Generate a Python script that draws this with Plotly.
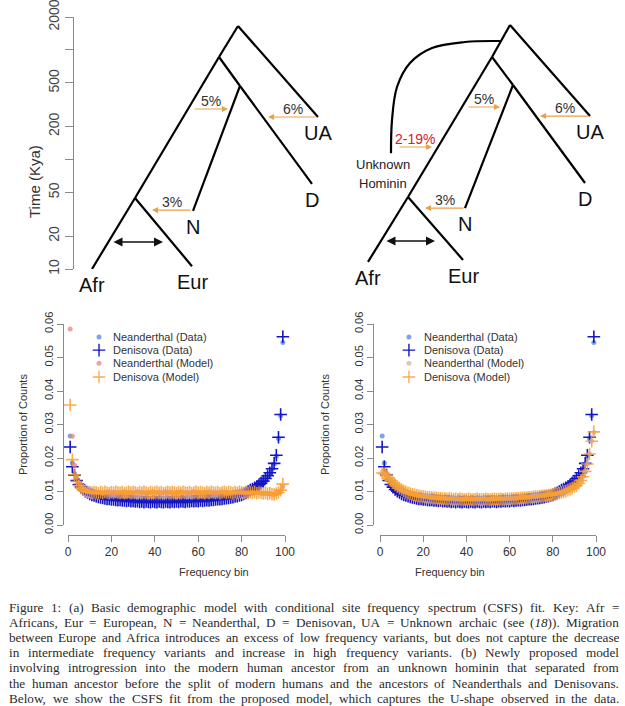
import math
import plotly.graph_objects as go

W, H = 625, 706
def fx(p): return p / W
def fy(p): return 1 - p / H

# ---------------- data: CSFS ----------------
bins = list(range(1, 100))
series_names = ["Neanderthal (Data)", "Denisova (Data)", "Neanderthal (Model)", "Denisova (Model)"]

nd_data = [.0266, .0185, .0153, .0135, .0122, .0114, .0107, .0102, .0098, .0094,
           .0091, .0089, .0087, .0085, .0083, .0082, .0080, .0079, .0078, .0077,
           .0077, .0076, .0075, .0075, .0074, .0074, .0073, .0073, .0072, .0072,
           .0071, .0071, .0070, .0071, .0070, .0070, .0070, .0069, .0070, .0070,
           .0069, .0070, .0070, .0069, .0070, .0070, .0069, .0070, .0070, .0070,
           .0070, .0071, .0071, .0070, .0071, .0071, .0072, .0072, .0072, .0072,
           .0073, .0073, .0074, .0074, .0074, .0075, .0076, .0076, .0077, .0078,
           .0079, .0079, .0080, .0081, .0082, .0084, .0085, .0087, .0088, .0090,
           .0093, .0096, .0099, .0103, .0106, .0110, .0114, .0119, .0124, .0130,
           .0137, .0145, .0154, .0166, .0182, .0205, .0258, .0326, .0545]

dv_data = [.0233, .0174, .0149, .0133, .0121, .0113, .0106, .0101, .0097, .0093,
           .0090, .0088, .0086, .0084, .0082, .0081, .0079, .0078, .0078, .0076,
           .0076, .0075, .0074, .0075, .0073, .0073, .0072, .0073, .0071, .0072,
           .0070, .0071, .0069, .0070, .0068, .0070, .0069, .0068, .0070, .0069,
           .0068, .0070, .0069, .0068, .0070, .0069, .0068, .0070, .0069, .0070,
           .0069, .0071, .0070, .0069, .0071, .0070, .0072, .0071, .0072, .0071,
           .0073, .0072, .0073, .0074, .0073, .0075, .0075, .0076, .0077, .0077,
           .0078, .0079, .0080, .0081, .0082, .0083, .0085, .0086, .0088, .0090,
           .0093, .0096, .0100, .0104, .0107, .0111, .0115, .0120, .0125, .0131,
           .0139, .0147, .0156, .0168, .0184, .0208, .0262, .0330, .0562]

# panel (a): basic model
nd_model_a = [.0585, .0265, .0178, .0143, .0126, .0115, .0108, .0103, .0100, .0099,
              .0097, .0099, .0096, .0098, .0097, .0095, .0098, .0097, .0099, .0096,
              .0098, .0097, .0095, .0098, .0096, .0099, .0097, .0096, .0098, .0095,
              .0097, .0099, .0096, .0098, .0097, .0095, .0098, .0096, .0099, .0097,
              .0096, .0098, .0095, .0097, .0099, .0096, .0098, .0097, .0095, .0098,
              .0096, .0099, .0097, .0096, .0098, .0095, .0097, .0099, .0096, .0098,
              .0097, .0095, .0098, .0096, .0099, .0097, .0096, .0098, .0095, .0097,
              .0099, .0096, .0098, .0097, .0095, .0098, .0096, .0099, .0097, .0096,
              .0098, .0095, .0097, .0096, .0098, .0095, .0097, .0096, .0095, .0094,
              .0095, .0093, .0094, .0092, .0091, .0093, .0096, .0102, .0115]

dv_model_a = [.0358, .0195, .0150, .0130, .0118, .0110, .0105, .0101, .0099, .0098,
              .0096, .0098, .0097, .0095, .0098, .0096, .0099, .0097, .0095, .0098,
              .0096, .0099, .0097, .0096, .0098, .0095, .0097, .0099, .0096, .0098,
              .0097, .0095, .0098, .0096, .0099, .0097, .0095, .0098, .0096, .0097,
              .0099, .0096, .0098, .0095, .0097, .0099, .0096, .0098, .0097, .0095,
              .0098, .0096, .0099, .0097, .0096, .0098, .0095, .0097, .0099, .0096,
              .0098, .0097, .0095, .0098, .0096, .0099, .0097, .0096, .0098, .0095,
              .0097, .0099, .0096, .0098, .0097, .0095, .0098, .0096, .0099, .0097,
              .0096, .0098, .0095, .0097, .0096, .0098, .0095, .0097, .0096, .0094,
              .0096, .0093, .0095, .0092, .0091, .0094, .0097, .0104, .0122]

# panel (b): proposed model
nd_model_b = [.0158, .0154, .0148, .0141, .0134, .0127, .0121, .0116, .0111, .0107,
              .0103, .0100, .0097, .0095, .0093, .0091, .0089, .0088, .0087, .0086,
              .0085, .0084, .0083, .0082, .0082, .0081, .0080, .0080, .0080, .0079,
              .0079, .0078, .0078, .0078, .0077, .0078, .0077, .0077, .0077, .0078,
              .0077, .0077, .0077, .0078, .0077, .0077, .0077, .0078, .0077, .0077,
              .0077, .0078, .0077, .0078, .0078, .0078, .0078, .0078, .0079, .0079,
              .0079, .0080, .0080, .0081, .0081, .0082, .0082, .0083, .0083, .0084,
              .0085, .0085, .0086, .0087, .0088, .0088, .0089, .0090, .0091, .0092,
              .0093, .0094, .0096, .0098, .0100, .0102, .0105, .0108, .0111, .0115,
              .0119, .0125, .0134, .0145, .0161, .0183, .0213, .0251, .0276]

dv_model_b = [.0155, .0153, .0147, .0140, .0133, .0126, .0120, .0115, .0110, .0106,
              .0102, .0099, .0096, .0094, .0092, .0090, .0089, .0087, .0086, .0085,
              .0084, .0083, .0083, .0082, .0081, .0081, .0080, .0080, .0079, .0079,
              .0078, .0079, .0078, .0077, .0078, .0077, .0078, .0077, .0076, .0077,
              .0078, .0077, .0076, .0077, .0078, .0077, .0076, .0077, .0078, .0077,
              .0076, .0077, .0078, .0077, .0077, .0078, .0077, .0078, .0078, .0078,
              .0079, .0079, .0080, .0080, .0081, .0081, .0082, .0082, .0083, .0083,
              .0084, .0085, .0085, .0086, .0087, .0088, .0088, .0089, .0090, .0091,
              .0092, .0093, .0095, .0097, .0099, .0101, .0104, .0107, .0110, .0114,
              .0118, .0124, .0133, .0144, .0160, .0182, .0212, .0250, .0278]

for s in (nd_data, dv_data, nd_model_a, dv_model_a, nd_model_b, dv_model_b):
    assert len(s) == len(bins)

x_ticks = [0, 20, 40, 60, 80, 100]
y_ticks = [0.0, 0.01, 0.02, 0.03, 0.04, 0.05, 0.06]
y_tick_text = ["0.00", "0.01", "0.02", "0.03", "0.04", "0.05", "0.06"]

# ---------------- data: demographic trees ----------------
time_ticks = [10, 20, 50, 100, 200, 500, 1000, 2000]
time_tick_text = ["10", "20", "50", "", "200", "500", "", "2000"]

node_names = ["root", "split", "archaic", "UA", "D", "N", "AfrEur", "Afr", "Eur"]
edges = [("root", "split"), ("split", "AfrEur"), ("AfrEur", "Afr"), ("root", "UA"),
         ("split", "archaic"), ("archaic", "D"), ("archaic", "N"), ("AfrEur", "Eur")]
tips = ["UA", "D", "N", "Afr", "Eur"]

left_node_x = [238, 219, 240, 318, 312, 193, 135, 92, 192]
left_node_kya = [1656, 863, 469, 244, 60, 34, 44.5, 10, 10.6]
right_node_x = [510, 492, 513, 590, 585, 465, 408, 368, 463]
right_node_kya = [1690, 863, 479, 249, 61, 36, 45.4, 11.6, 12.1]

# migrations: (from_x, to_x, kya, label, label colour)
left_migrations = [(193, 228, 289, "5%", "#333333"), (318, 268, 244, "6%", "#333333"),
                   (192, 152, 34.5, "3%", "#333333")]
right_migrations = [(398, 432, 130, "2-19%", "#D2232A"), (467, 500, 301, "5%", "#333333"),
                    (590, 540, 249, "6%", "#333333"), (465, 425, 36, "3%", "#333333")]
left_exchange = (112, 163, 17.6)
right_exchange = (385, 435, 18)

hominin_x = [391, 392, 397, 410, 432, 465, 500]
hominin_kya = [114, 229, 459, 760, 1042, 1183, 1207]

caption_lines = [
    "Figure 1: (a) Basic demographic model with conditional site frequency spectrum (CSFS) fit. Key: Afr =",
    "Africans, Eur = European, N = Neanderthal, D = Denisovan, UA = Unknown archaic (see (<i>18</i>)). Migration",
    "between Europe and Africa introduces an excess of low frequency variants, but does not capture the decrease",
    "in intermediate frequency variants and increase in high frequency variants. (b) Newly proposed model",
    "involving introgression into the modern human ancestor from an unknown hominin that separated from",
    "the human ancestor before the split of modern humans and the ancestors of Neanderthals and Denisovans.",
    "Below, we show the CSFS fit from the proposed model, which captures the U-shape observed in the data.",
]

# ---------------- styling ----------------
SANS = "Liberation Sans, Arial, sans-serif"
SERIF = "Liberation Serif, Times New Roman, serif"
AX_GRAY = "#8a8a8a"
TXT = "#333333"
ORANGE = "#E9A04A"
C_ND_DATA = "rgba(80,135,225,0.75)"
C_DV_DATA = "#1414C8"
C_ND_MODEL = "rgba(240,130,130,0.75)"
C_DV_MODEL = "rgba(246,160,50,0.85)"

fig = go.Figure()

def add_panel(xa, ya, nd_model, dv_model, leg_model_color):
    sets = [
        (nd_data, "circle", C_ND_DATA),
        (dv_data, "cross-thin", C_DV_DATA),
        (nd_model, "circle", leg_model_color),
        (dv_model, "cross-thin", C_DV_MODEL),
    ]
    for (vals, sym, col), name in zip(sets, series_names):
        if sym == "circle":
            marker = dict(symbol="circle", size=5, color=col, line=dict(width=0))
        else:
            marker = dict(symbol="cross-thin", size=9, color=col, line=dict(width=1.6, color=col))
        fig.add_trace(go.Scatter(x=bins, y=vals, mode="markers", name=name, marker=marker,
                                 xaxis=xa, yaxis=ya, showlegend=False, cliponaxis=False,
                                 hoverinfo="x+y+name"))

add_panel("x", "y", nd_model_a, dv_model_a, C_ND_MODEL)
add_panel("x2", "y2", nd_model_b, dv_model_b, "rgba(215,170,170,0.7)")

# manual R-style legends (positions in axis units)
leg_rows = [0.0561, 0.0522, 0.0483, 0.0442]
leg_syms = [("circle", C_ND_DATA), ("cross-thin", C_DV_DATA), ("circle", None), ("cross-thin", C_DV_MODEL)]
annotations = []
for xa, ya, sym_x, txt_x, ndm_col in [("x", "y", 14.3, 20.0, C_ND_MODEL), ("x2", "y2", 13.4, 19.6, "rgba(215,170,170,0.7)")]:
    for (sym, col), name, yy in zip(leg_syms, series_names, leg_rows):
        col = col or ndm_col
        if sym == "circle":
            marker = dict(symbol="circle", size=5, color=col, line=dict(width=0))
        else:
            marker = dict(symbol="cross-thin", size=9, color=col, line=dict(width=1.4, color=col))
        fig.add_trace(go.Scatter(x=[sym_x], y=[yy], mode="markers", marker=marker, xaxis=xa, yaxis=ya,
                                 showlegend=False, hoverinfo="skip", cliponaxis=False))
        annotations.append(dict(x=txt_x, y=yy, xref=xa, yref=ya, text=name, showarrow=False,
                                xanchor="left", yanchor="middle", font=dict(family=SANS, size=11, color=TXT)))

# ---------------- trees ----------------
def add_tree(node_x, node_kya):
    pos = {n: (x, k) for n, x, k in zip(node_names, node_x, node_kya)}
    xs, ys = [], []
    for a, b in edges:
        xs += [pos[a][0], pos[b][0], None]
        ys += [pos[a][1], pos[b][1], None]
    fig.add_trace(go.Scatter(x=xs, y=ys, mode="lines", line=dict(color="black", width=2.2),
                             xaxis="x3", yaxis="y3", showlegend=False, hoverinfo="skip", cliponaxis=False))
    for t in tips:
        x, k = pos[t]
        annotations.append(dict(x=x, y=math.log10(k), xref="x3", yref="y3", text=t, showarrow=False,
                                yshift=-16, xanchor="center", yanchor="middle",
                                font=dict(family=SANS, size=20, color="#111111")))

def add_migrations(migs, exch):
    for x0, x1, k, lab, lcol in migs:
        ly = math.log10(k)
        annotations.append(dict(x=x1, y=ly, ax=x0, ay=ly, xref="x3", yref="y3", axref="x3", ayref="y3",
                                text="", showarrow=True, arrowhead=2, arrowsize=1.1, arrowwidth=1.1,
                                arrowcolor=ORANGE, standoff=0, startstandoff=0))
        annotations.append(dict(x=(x0 + x1) / 2, y=ly, xref="x3", yref="y3", text=lab, showarrow=False,
                                yshift=8, xanchor="center", yanchor="middle",
                                font=dict(family=SANS, size=14, color=lcol)))
    x0, x1, k = exch
    ly = math.log10(k)
    annotations.append(dict(x=x1, y=ly, ax=x0, ay=ly, xref="x3", yref="y3", axref="x3", ayref="y3",
                            text="", showarrow=True, arrowhead=2, arrowsize=1.2, arrowwidth=1.5,
                            arrowside="end+start", arrowcolor="#111111", standoff=0, startstandoff=0))

add_tree(left_node_x, left_node_kya)
add_tree(right_node_x, right_node_kya)
add_migrations(left_migrations, left_exchange)
add_migrations(right_migrations, right_exchange)

fig.add_trace(go.Scatter(x=hominin_x, y=hominin_kya, mode="lines", line=dict(color="black", width=2.2, shape="spline"),
                         xaxis="x3", yaxis="y3", showlegend=False, hoverinfo="skip", cliponaxis=False))
annotations.append(dict(x=383, y=math.log10(hominin_kya[0]), xref="x3", yref="y3",
                        text="Unknown", showarrow=False, yshift=-11, xanchor="center", yanchor="middle",
                        font=dict(family=SANS, size=13, color="#222222")))
annotations.append(dict(x=383, y=math.log10(hominin_kya[0]), xref="x3", yref="y3",
                        text="Hominin", showarrow=False, yshift=-30, xanchor="center", yanchor="middle",
                        font=dict(family=SANS, size=13, color="#222222")))

# axis titles
annotations.append(dict(x=fx(24), y=fy(143), xref="paper", yref="paper", text="Time (Kya)", textangle=-90,
                        showarrow=False, font=dict(family=SANS, size=15, color=TXT)))
for cx, cyx in [(177, 15), (487, 325)]:
    annotations.append(dict(x=fx(cx), y=fy(580), xref="paper", yref="paper", text="Frequency bin",
                            showarrow=False, font=dict(family=SANS, size=11, color=TXT)))
    annotations.append(dict(x=fx(cyx), y=fy(425), xref="paper", yref="paper", text="Proportion of Counts",
                            textangle=-90, showarrow=False, font=dict(family=SANS, size=11, color=TXT)))

# ---------------- caption (justified word by word) ----------------
TW = {' ': .25, 'a': .444, 'b': .5, 'c': .444, 'd': .5, 'e': .444, 'f': .333, 'g': .5, 'h': .5, 'i': .278,
      'j': .278, 'k': .5, 'l': .278, 'm': .778, 'n': .5, 'o': .5, 'p': .5, 'q': .5, 'r': .333, 's': .389,
      't': .278, 'u': .5, 'v': .5, 'w': .722, 'x': .5, 'y': .5, 'z': .444, 'A': .722, 'B': .667, 'C': .667,
      'D': .722, 'E': .611, 'F': .556, 'G': .722, 'H': .722, 'I': .333, 'J': .389, 'K': .722, 'L': .611,
      'M': .889, 'N': .722, 'O': .722, 'P': .556, 'Q': .722, 'R': .667, 'S': .556, 'T': .611, 'U': .722,
      'V': .722, 'W': .944, 'X': .722, 'Y': .722, 'Z': .611, ',': .25, '.': .25, ':': .278, '(': .333,
      ')': .333, '=': .564, '-': .333, '%': .833}
CAP_FS = 13.2
def wwidth(w):
    plain = w.replace("<i>", "").replace("</i>", "")
    return sum(TW.get(c, .5) for c in plain) * CAP_FS

x_left, x_right = 8, 618
for i, line in enumerate(caption_lines):
    words = line.split(" ")
    widths = [wwidth(w) for w in words]
    gap = (x_right - x_left - sum(widths)) / (len(words) - 1)
    cx = x_left
    ly = 607 + i * 15.2
    for w, wd in zip(words, widths):
        annotations.append(dict(x=fx(cx), y=fy(ly), xref="paper", yref="paper", text=w, showarrow=False,
                                xanchor="left", yanchor="middle", borderpad=0,
                                font=dict(family=SERIF, size=CAP_FS, color="#2a2a2a")))
        cx += wd + gap

# ---------------- layout ----------------
def scatter_axes(x0, x1, ypos_line, xline):
    xa = dict(domain=[fx(x0), fx(x1)], range=[0, 100], anchor="free", position=fy(ypos_line),
              tickvals=x_ticks, ticks="outside", ticklen=6, tickcolor=AX_GRAY, showline=True,
              linecolor=AX_GRAY, linewidth=1, showgrid=False, zeroline=False,
              tickfont=dict(family=SANS, size=12, color=TXT))
    ya = dict(domain=[fy(525), fy(324)], range=[0, 0.06], anchor="free", position=fx(xline),
              tickvals=y_ticks, ticktext=y_tick_text, ticks="outside", ticklen=6, tickcolor=AX_GRAY,
              showline=True, linecolor=AX_GRAY, linewidth=1, showgrid=False, zeroline=False,
              tickangle=-90, tickfont=dict(family=SANS, size=11, color=TXT))
    return xa, ya

xa1, ya1 = scatter_axes(68, 285, 535, 63)
xa2, ya2 = scatter_axes(380, 596, 535, 373)
fig.update_layout(
    width=W, height=H, margin=dict(l=0, r=0, t=0, b=0, autoexpand=False),
    paper_bgcolor="white", plot_bgcolor="rgba(0,0,0,0)",
    xaxis=xa1, yaxis=ya1,
    xaxis2=xa2, yaxis2=ya2,
    xaxis3=dict(domain=[0, 1], range=[0, W], visible=False, anchor="y3"),
    yaxis3=dict(domain=[fy(269), fy(17)], type="log", range=[1, math.log10(2000)], anchor="free",
                position=fx(73), tickvals=time_ticks, ticktext=time_tick_text, ticks="outside",
                ticklen=8, tickcolor=AX_GRAY, showline=True, linecolor=AX_GRAY, linewidth=1,
                showgrid=False, zeroline=False, tickangle=-90, ticklabeloverflow="allow",
                tickfont=dict(family=SANS, size=14, color="#444444")),
    annotations=annotations,
    showlegend=False,
)
fig.write_html("out.html", config={"displayModeBar": False},
               post_script="document.body.style.margin='0';document.body.style.padding='0';document.body.style.overflow='hidden';")
